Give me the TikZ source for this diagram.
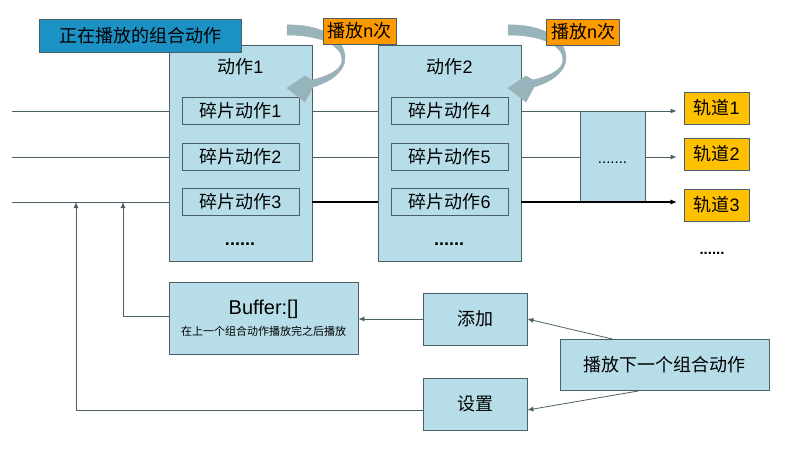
\documentclass[tikz,border=0pt]{standalone}
\usepackage{fontspec}
\setmainfont{Liberation Sans}
\newfontfamily\cjk{Noto Sans CJK SC}
\usetikzlibrary{arrows.meta,positioning}
\definecolor{aqua}{HTML}{B7DEE8}
\definecolor{edge}{HTML}{4B5F66}
\definecolor{nowblue}{HTML}{1C91C4}
\definecolor{loopor}{HTML}{FF9900}
\definecolor{trackgold}{HTML}{FFC000}
\definecolor{swirl}{HTML}{97B4BA}

\begin{document}
\begin{tikzpicture}[x=1pt,y=-1pt,
    big/.style={font=\fontsize{18pt}{20pt}\selectfont},
    act/.style={draw=edge,fill=aqua,line width=0.9pt,minimum width=143pt,minimum height=216pt,inner sep=0pt},
    frag/.style={draw=edge,fill=aqua,line width=0.9pt,minimum width=117pt,minimum height=27pt,inner sep=0pt,big},
    trk/.style={draw=edge,fill=trackgold,line width=0.8pt,minimum width=65pt,minimum height=32pt,inner sep=0pt,big},
    times/.style={draw=edge,fill=loopor,line width=0.8pt,minimum width=73pt,minimum height=26pt,inner sep=0pt,big},
    op/.style={draw=edge,fill=aqua,line width=0.9pt,inner sep=0pt,big},
    conn/.style={draw=edge,line width=0.8pt},
    tip/.style={-{Latex[length=6pt,width=5pt]}}]
    \useasboundingbox (0,0) rectangle (792,464);

    % tracks and the three lines
    \node[trk] (trk1) at (716.5,108) {{\cjk 轨道}1};
    \node[trk] (trk2) at (716.5,154) {{\cjk 轨道}2};
    \node[trk] (trk3) at (716.5,205) {{\cjk 轨道}3};
    \node[big,font=\fontsize{15pt}{17pt}\selectfont\bfseries] (trkdots) at (712,253) {......};
    \coordinate (in1) at (12,111);
    \coordinate (in2) at (12,157);
    \coordinate (in3) at (12,202);
    \foreach \i in {1,2,3}
    {
        \draw[conn,tip,shorten >=7pt] (in\i) -- (in\i -| trk\i.west);
    }

    % combined actions
    \node[act] (act1) at (240.5,153) {};
    \node[act] (act2) at (449.5,153) {};
    \node[big,below=10pt of act1.north] (act1t) {{\cjk 动作}1};
    \node[big,below=10pt of act2.north] (act2t) {{\cjk 动作}2};
    \foreach \i/\y/\j in {1/111/4,2/157/5,3/202/6}
    {
        \node[frag] (frag\i) at (240.5,\y) {{\cjk 碎片动作}\i};
        \node[frag] (frag\j) at (449.5,\y) {{\cjk 碎片动作}\j};
    }
    \node[big,font=\fontsize{18pt}{20pt}\selectfont\bfseries] (act1d) at (240,244) {......};
    \node[big,font=\fontsize{18pt}{20pt}\selectfont\bfseries] (act2d) at (449,244) {......};
    \node[act,minimum width=65pt,minimum height=91pt] (mid) at (612.5,156.5) {};
    \node[font=\fontsize{15pt}{17pt}\selectfont] (midd) at (612.5,163) {.......};
    \draw[black,line width=1.2pt] (act1.east |- in3) -- (act2.west |- in3);
    \draw[black,line width=1.2pt,tip,shorten >=7pt] (act2.east |- in3) -- (in3 -| trk3.west);

    % play n times
    \foreach \dx in {0,221}
    {
        \filldraw[fill=swirl,draw=edge!50,line width=0.5pt,shift={(\dx,0)}]
            (287,25) .. controls (320,24) and (345,38) .. (345,58)
            .. controls (345,72) and (330,82) .. (313,87)
            -- (305,102) -- (287,88) -- (305,76) -- (312,80)
            .. controls (328,76) and (342,70) .. (342,60)
            .. controls (342,45) and (320,35) .. (287,35) -- cycle;
    }
    \node[times] (times1) at (359.5,31) {{\cjk 播放}n{\cjk 次}};
    \node[times] (times2) at (583,32) {{\cjk 播放}n{\cjk 次}};
    \node[draw=edge,fill=nowblue,line width=0.8pt,minimum width=202pt,minimum height=33pt,inner sep=0pt,big] (now) at (140,35.5) {\cjk 正在播放的组合动作};

    % buffer and controls
    \node[op,minimum width=189pt,minimum height=72pt,align=center] (buf) at (263.5,318)
        {\fontsize{20pt}{22pt}\selectfont Buffer:[]\\[1pt]\cjk\fontsize{11pt}{13pt}\selectfont 在上一个组合动作播放完之后播放};
    \node[op,minimum width=104pt,minimum height=52pt] (add) at (475,319) {\cjk 添加};
    \node[op,minimum width=104pt,minimum height=52pt] (set) at (475,404) {\cjk 设置};
    \node[op,minimum width=209pt,minimum height=51pt] (next) at (664.5,365) {\cjk 播放下一个组合动作};
    \coordinate (up1) at (123,202);
    \coordinate (up2) at (76,202);
    \draw[conn,tip] ([xshift=-52pt]next.north) -- (add.east);
    \draw[conn,tip] ([xshift=-26pt]next.south) -- ([yshift=-6pt]set.east);
    \draw[conn,tip] (add.west) -- (add.west -| buf.east);
    \draw[conn,tip] ([yshift=2pt]buf.west) -| (up1);
    \draw[conn,tip] ([yshift=-6pt]set.west) -| (up2);
\end{tikzpicture}
\end{document}
